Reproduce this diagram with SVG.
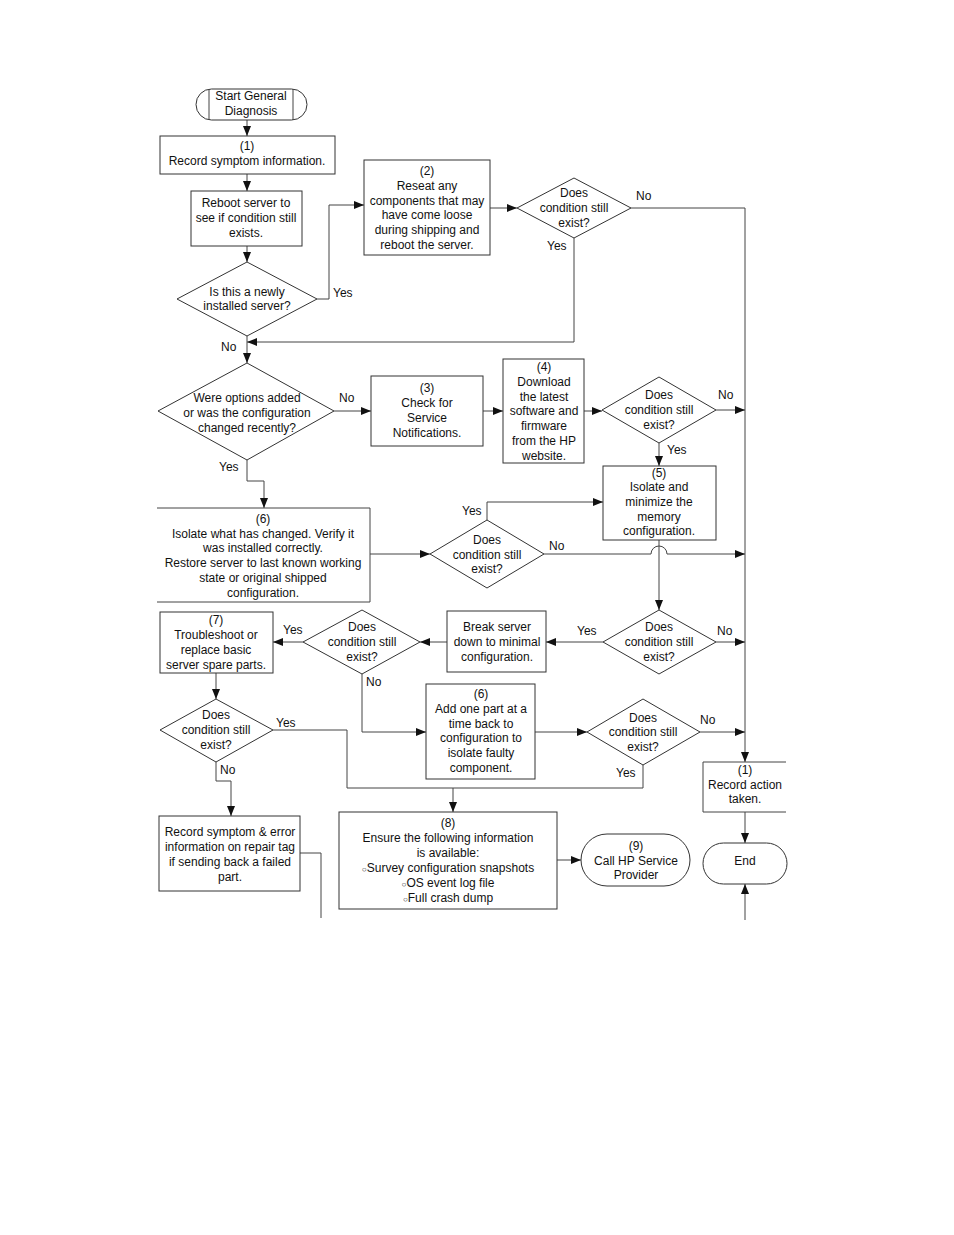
<svg xmlns="http://www.w3.org/2000/svg" width="954" height="1235" viewBox="0 0 954 1235">
<style>
.n{fill:#fff;stroke:#333;stroke-width:1}
.t{font-family:"Liberation Sans",Arial,sans-serif;font-size:12px;fill:#111;text-anchor:middle}
.l{font-family:"Liberation Sans",Arial,sans-serif;font-size:12px;fill:#111}
.c{fill:none;stroke:#444;stroke-width:1}
.a{marker-end:url(#ah)}
</style>
<defs>
<marker id="ah" viewBox="0 0 10 8" refX="10" refY="4" markerWidth="10" markerHeight="8" markerUnits="userSpaceOnUse" orient="auto">
<path d="M0,0 L10,4 L0,8 z" fill="#111"/>
</marker>
</defs>
<rect width="954" height="1235" fill="#fff"/>

<g id="connectors">
<path class="c a" d="M247,120 V136"/>
<path class="c a" d="M247,174 V191"/>
<path class="c a" d="M247,246 V262"/>
<path class="c a" d="M317,299 H329 V205 H364"/>
<path class="c a" d="M490,208 H517"/>
<path class="c a" d="M631,208 H745 V762"/>
<path class="c a" d="M574,238 V342 H247"/>
<path class="c a" d="M247,336 V363"/>
<path class="c a" d="M334,411 H371"/>
<path class="c a" d="M483,411 H503"/>
<path class="c a" d="M584,411 H602"/>
<path class="c a" d="M716,410 H745"/>
<path class="c a" d="M659,443 V466"/>
<path class="c a" d="M247,460 V481 H264 V508"/>
<path class="c a" d="M370,554 H430"/>
<path class="c a" d="M487,520 V502 H603"/>
<path class="c a" d="M544,554 H651 A8,8 0 0 1 667,554 H745"/>
<path class="c a" d="M659,540 V610"/>
<path class="c a" d="M716,642 H745"/>
<path class="c a" d="M603,642 H546"/>
<path class="c a" d="M447,642 H420"/>
<path class="c a" d="M303,642 H273"/>
<path class="c a" d="M362,674 V732 H426"/>
<path class="c a" d="M216,673 V699"/>
<path class="c a" d="M273,730 H347 V788 H453 V812"/>
<path class="c" d="M643,765 V788 H453"/>
<path class="c a" d="M535,732 H587"/>
<path class="c a" d="M700,732 H745"/>
<path class="c a" d="M216,762 V781 H231 V816"/>
<path class="c a" d="M745,812 V843"/>
<path class="c a" d="M745,920 V884"/>
<path class="c" d="M300,853 H321 V918"/>
<path class="c a" d="M557,860 H581"/>
</g>

<g id="start">
<rect class="n" x="196" y="89" width="111" height="31" rx="15.5"/>
<path class="c" d="M209,89 V120 M293,89 V120"/>
<text class="t" x="251" y="100">Start General</text>
<text class="t" x="251" y="115">Diagnosis</text>
</g>

<g id="box1">
<rect class="n" x="160" y="136" width="175" height="38"/>
<text class="t" x="247" y="150">(1)</text>
<text class="t" x="247" y="165">Record symptom information.</text>
</g>

<g id="reboot">
<rect class="n" x="191" y="191" width="111" height="55"/>
<text class="t" x="246" y="207">Reboot server to</text>
<text class="t" x="246" y="222">see if condition still</text>
<text class="t" x="246" y="237">exists.</text>
</g>

<g id="d1">
<polygon class="n" points="247,262 317,299 247,336 177,299"/>
<text class="t" x="247" y="296">Is this a newly</text>
<text class="t" x="247" y="310">installed server?</text>
</g>
<text class="l" x="333" y="297">Yes</text>
<text class="l" x="221" y="351">No</text>

<g id="box2">
<rect class="n" x="364" y="160" width="126" height="95"/>
<text class="t" x="427" y="175">(2)</text>
<text class="t" x="427" y="190">Reseat any</text>
<text class="t" x="427" y="205">components that may</text>
<text class="t" x="427" y="219">have come loose</text>
<text class="t" x="427" y="234">during shipping and</text>
<text class="t" x="427" y="249">reboot the server.</text>
</g>

<g id="d2">
<polygon class="n" points="574,178 631,208 574,238 517,208"/>
<text class="t" x="574" y="197">Does</text>
<text class="t" x="574" y="212">condition still</text>
<text class="t" x="574" y="227">exist?</text>
</g>
<text class="l" x="636" y="200">No</text>
<text class="l" x="547" y="250">Yes</text>

<g id="d3">
<polygon class="n" points="247,363 334,411 247,460 158,411"/>
<text class="t" x="247" y="402">Were options added</text>
<text class="t" x="247" y="417">or was the configuration</text>
<text class="t" x="247" y="432">changed recently?</text>
</g>
<text class="l" x="339" y="402">No</text>
<text class="l" x="219" y="471">Yes</text>

<g id="box3">
<rect class="n" x="371" y="376" width="112" height="70"/>
<text class="t" x="427" y="392">(3)</text>
<text class="t" x="427" y="407">Check for</text>
<text class="t" x="427" y="422">Service</text>
<text class="t" x="427" y="437">Notifications.</text>
</g>

<g id="box4">
<rect class="n" x="503" y="359" width="81" height="104"/>
<text class="t" x="544" y="371">(4)</text>
<text class="t" x="544" y="386">Download</text>
<text class="t" x="544" y="401">the latest</text>
<text class="t" x="544" y="415">software and</text>
<text class="t" x="544" y="430">firmware</text>
<text class="t" x="544" y="445">from the HP</text>
<text class="t" x="544" y="460">website.</text>
</g>

<g id="d4">
<polygon class="n" points="659,377 716,410 659,443 602,410"/>
<text class="t" x="659" y="399">Does</text>
<text class="t" x="659" y="414">condition still</text>
<text class="t" x="659" y="429">exist?</text>
</g>
<text class="l" x="718" y="399">No</text>
<text class="l" x="667" y="454">Yes</text>

<g id="box5">
<rect class="n" x="603" y="466" width="113" height="74"/>
<text class="t" x="659" y="477">(5)</text>
<text class="t" x="659" y="491">Isolate and</text>
<text class="t" x="659" y="506">minimize the</text>
<text class="t" x="659" y="521">memory</text>
<text class="t" x="659" y="535">configuration.</text>
</g>

<g id="box6">
<rect x="157" y="508" width="213" height="94" fill="#fff"/>
<path class="c" d="M157,508 H370 V602 H157"/>
<text class="t" x="263" y="523">(6)</text>
<text class="t" x="263" y="538">Isolate what has changed. Verify it</text>
<text class="t" x="263" y="552">was installed correctly.</text>
<text class="t" x="263" y="567">Restore server to last known working</text>
<text class="t" x="263" y="582">state or original shipped</text>
<text class="t" x="263" y="597">configuration.</text>
</g>

<g id="d5">
<polygon class="n" points="487,520 544,554 487,588 430,554"/>
<text class="t" x="487" y="544">Does</text>
<text class="t" x="487" y="559">condition still</text>
<text class="t" x="487" y="573">exist?</text>
</g>
<text class="l" x="462" y="515">Yes</text>
<text class="l" x="549" y="550">No</text>

<g id="d6">
<polygon class="n" points="659,610 716,642 659,674 603,642"/>
<text class="t" x="659" y="631">Does</text>
<text class="t" x="659" y="646">condition still</text>
<text class="t" x="659" y="661">exist?</text>
</g>
<text class="l" x="717" y="635">No</text>
<text class="l" x="577" y="635">Yes</text>

<g id="break">
<rect class="n" x="447" y="611" width="99" height="61"/>
<text class="t" x="497" y="631">Break server</text>
<text class="t" x="497" y="646">down to minimal</text>
<text class="t" x="497" y="661">configuration.</text>
</g>

<g id="d7">
<polygon class="n" points="362,610 420,642 362,674 303,642"/>
<text class="t" x="362" y="631">Does</text>
<text class="t" x="362" y="646">condition still</text>
<text class="t" x="362" y="661">exist?</text>
</g>
<text class="l" x="283" y="634">Yes</text>
<text class="l" x="366" y="686">No</text>

<g id="box7">
<rect class="n" x="160" y="612" width="113" height="61"/>
<text class="t" x="216" y="624">(7)</text>
<text class="t" x="216" y="639">Troubleshoot or</text>
<text class="t" x="216" y="654">replace basic</text>
<text class="t" x="216" y="669">server spare parts.</text>
</g>

<g id="d8">
<polygon class="n" points="216,699 273,730 216,762 160,730"/>
<text class="t" x="216" y="719">Does</text>
<text class="t" x="216" y="734">condition still</text>
<text class="t" x="216" y="749">exist?</text>
</g>
<text class="l" x="276" y="727">Yes</text>
<text class="l" x="220" y="774">No</text>

<g id="box6b">
<rect class="n" x="426" y="684" width="109" height="95"/>
<text class="t" x="481" y="698">(6)</text>
<text class="t" x="481" y="713">Add one part at a</text>
<text class="t" x="481" y="728">time back to</text>
<text class="t" x="481" y="742">configuration to</text>
<text class="t" x="481" y="757">isolate faulty</text>
<text class="t" x="481" y="772">component.</text>
</g>

<g id="d9">
<polygon class="n" points="643,699 700,732 643,765 587,732"/>
<text class="t" x="643" y="722">Does</text>
<text class="t" x="643" y="736">condition still</text>
<text class="t" x="643" y="751">exist?</text>
</g>
<text class="l" x="700" y="724">No</text>
<text class="l" x="616" y="777">Yes</text>

<g id="record-action">
<rect x="703" y="762" width="83" height="50" fill="#fff"/>
<path class="c" d="M786,762 H703 V812 H786"/>
<text class="t" x="745" y="774">(1)</text>
<text class="t" x="745" y="789">Record action</text>
<text class="t" x="745" y="803">taken.</text>
</g>

<g id="end">
<rect class="n" x="703" y="843" width="84" height="41" rx="20.5"/>
<text class="t" x="745" y="865">End</text>
</g>

<g id="record-symptom">
<rect class="n" x="159" y="816" width="141" height="75"/>
<text class="t" x="230" y="836">Record symptom &amp; error</text>
<text class="t" x="230" y="851">information on repair tag</text>
<text class="t" x="230" y="866">if sending back a failed</text>
<text class="t" x="230" y="881">part.</text>
</g>

<g id="box8">
<rect class="n" x="339" y="812" width="218" height="97"/>
<text class="t" x="448" y="827">(8)</text>
<text class="t" x="448" y="842">Ensure the following information</text>
<text class="t" x="448" y="857">is available:</text>
<text class="t" x="448" y="872"><tspan font-size="8">○</tspan>Survey configuration snapshots</text>
<text class="t" x="448" y="887"><tspan font-size="8">○</tspan>OS event log file</text>
<text class="t" x="448" y="902"><tspan font-size="8">○</tspan>Full crash dump</text>
</g>

<g id="callhp">
<rect class="n" x="581" y="834" width="109" height="52" rx="26"/>
<text class="t" x="636" y="850">(9)</text>
<text class="t" x="636" y="865">Call HP Service</text>
<text class="t" x="636" y="879">Provider</text>
</g>
</svg>
